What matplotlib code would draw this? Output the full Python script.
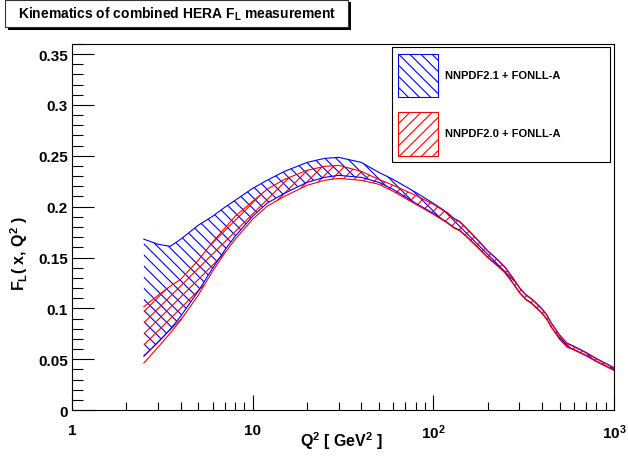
import matplotlib
matplotlib.use("Agg")
import matplotlib.pyplot as plt
from matplotlib.patches import Patch, Rectangle
from matplotlib.ticker import FixedLocator, FixedFormatter, MultipleLocator, LogLocator, NullFormatter, FuncFormatter

plt.rcParams['font.family'] = ['Liberation Sans', 'DejaVu Sans']
plt.rcParams['font.weight'] = 'bold'
plt.rcParams['mathtext.fontset'] = 'custom'
plt.rcParams['mathtext.rm'] = 'Liberation Sans:bold'
plt.rcParams['mathtext.it'] = 'Liberation Sans:bold'
plt.rcParams['mathtext.bf'] = 'Liberation Sans:bold'
plt.rcParams['mathtext.default'] = 'rm'
plt.rcParams['hatch.linewidth'] = 0.8

# Q^2 grid [GeV^2]
q2 = [2.5, 3, 3.5, 4, 5, 6, 7, 8, 10, 12, 15, 20, 25, 30, 40, 50, 60, 80, 100,
      120, 130, 140, 150, 175, 200, 225, 250, 275, 300, 325, 350, 375, 400,
      425, 450, 475, 500, 550, 600, 700, 800, 1000]

# NNPDF2.1 + FONLL-A band
nn21_up = [0.168, 0.163, 0.161, 0.168, 0.1817, 0.1905, 0.1993, 0.2062, 0.218,
           0.2259, 0.2347, 0.2435, 0.2475, 0.2485, 0.2435, 0.2337, 0.2268,
           0.214, 0.2033,
           0.194, 0.1886, 0.1855, 0.1803, 0.168, 0.1568, 0.1486, 0.1405,
           0.1304, 0.1205, 0.1136, 0.1095, 0.1046, 0.0996, 0.0937, 0.0858,
           0.0798, 0.0739, 0.0658, 0.0628, 0.0567, 0.0507, 0.0417]
nn21_lo = [0.053, 0.0668, 0.0795, 0.0923, 0.1169, 0.1394, 0.1571, 0.1709,
           0.1905, 0.2033, 0.2131, 0.2239, 0.2288, 0.2308, 0.2288, 0.2239,
           0.217, 0.2033, 0.1935,
           0.1843, 0.1796, 0.1769, 0.1722, 0.1608, 0.1504, 0.1428, 0.1352,
           0.1255, 0.1158, 0.1091, 0.1052, 0.1003, 0.0955, 0.0896, 0.0819,
           0.0761, 0.0702, 0.0624, 0.0596, 0.0539, 0.0481, 0.0395]

# NNPDF2.0 + FONLL-A band
nn20_up = [0.1016, 0.1129, 0.1218, 0.1286, 0.1473, 0.165, 0.1787, 0.1905,
           0.2052, 0.217, 0.2268, 0.2357, 0.2396, 0.2406, 0.2347, 0.2268,
           0.221, 0.2111, 0.2023,
           0.1935, 0.1881, 0.1849, 0.1797, 0.1674, 0.1562, 0.148, 0.1399,
           0.1298, 0.1199, 0.113, 0.1089, 0.104, 0.099, 0.0931, 0.0852,
           0.0792, 0.0733, 0.0652, 0.0622, 0.0562, 0.0502, 0.0413]
nn20_lo = [0.0462, 0.0619, 0.0756, 0.0884, 0.1129, 0.1365, 0.1542, 0.1679,
           0.1876, 0.2003, 0.2101, 0.221, 0.2259, 0.2278, 0.2259, 0.222,
           0.2151, 0.2023, 0.1925,
           0.1837, 0.179, 0.1763, 0.1716, 0.1602, 0.1498, 0.1422, 0.1346,
           0.1249, 0.1152, 0.1085, 0.1046, 0.0997, 0.0949, 0.089, 0.0813,
           0.0755, 0.0696, 0.0618, 0.059, 0.0533, 0.0475, 0.0389]

labels = ['NNPDF2.1 + FONLL-A', 'NNPDF2.0 + FONLL-A']
colors = ['blue', 'red']
hatches = ['\\\\\\', '///']

fig = plt.figure(figsize=(6.28, 4.60), dpi=100)
ax = fig.add_axes([0.1146, 0.1065, 0.863, 0.7957])

bands = [(nn21_lo, nn21_up), (nn20_lo, nn20_up)]
for (lo, up), c, h in zip(bands, colors, hatches):
    ax.fill_between(q2, lo, up, facecolor='none', edgecolor=c, hatch=h,
                    linewidth=0)
    ax.plot(q2, up, color=c, lw=0.8)
    ax.plot(q2, lo, color=c, lw=0.8)

ax.set_xscale('log')
ax.set_xlim(1, 1000)
ax.set_ylim(0, 0.36)

ax.xaxis.set_major_locator(FixedLocator([1, 10, 100, 1000]))
ax.xaxis.set_major_formatter(FixedFormatter(['1', '10', '10$^2$', '10$^3$']))
ax.xaxis.set_minor_locator(LogLocator(base=10, subs=range(2, 10)))
ax.xaxis.set_minor_formatter(NullFormatter())
ax.yaxis.set_major_locator(MultipleLocator(0.05))
ax.yaxis.set_minor_locator(MultipleLocator(0.01))
ax.yaxis.set_major_formatter(FuncFormatter(lambda v, p: '%g' % round(v, 3)))

ax.tick_params(which='both', direction='in', top=False, right=False,
               width=0.8, color='black')
ax.tick_params(axis='x', which='major', length=11, pad=9, labelsize=11)
ax.tick_params(axis='x', which='minor', length=5.5)
ax.tick_params(axis='y', which='major', length=16, pad=3, labelsize=11)
ax.tick_params(axis='y', which='minor', length=8)
for s in ax.spines.values():
    s.set_linewidth(0.8)

ax.set_xlabel('Q$^2$ [ GeV$^2$ ]', fontsize=11.5, fontweight='bold')
ax.xaxis.set_label_coords(0.498, -0.082)
ax.xaxis.label.set_va('center')
ax.set_ylabel('F$_L$( x, Q$^2$ )', fontsize=11.5, fontweight='bold')
ax.yaxis.set_label_coords(-0.098, 0.43)
ax.yaxis.label.set_va('center')

handles = [Patch(facecolor='none', edgecolor=c, hatch=h, lw=0.8)
           for c, h in zip(colors, hatches)]
leg = ax.legend(handles, labels, loc='upper left',
                bbox_to_anchor=(0.590, 0.0, 0.403, 0.992), mode='expand',
                borderaxespad=0, handlelength=3.6, handleheight=5.7,
                labelspacing=1.3, borderpad=0.6, handletextpad=0.63,
                fancybox=False, framealpha=1, edgecolor='black',
                prop={'weight': 'bold', 'size': 8})
leg.get_frame().set_linewidth(0.8)

# title pave with shadow
fig.patches.append(Rectangle((8 / 628, 1 - 31 / 460), 343 / 628, 28 / 460,
                             transform=fig.transFigure, facecolor='black',
                             edgecolor='black', lw=0))
fig.patches.append(Rectangle((5 / 628, 1 - 28 / 460), 343 / 628, 27 / 460,
                             transform=fig.transFigure, facecolor='white',
                             edgecolor='#333333', lw=0.8))
fig.text(177 / 628, 1 - 14 / 460, 'Kinematics of combined HERA F$_L$ measurement',
         ha='center', va='center', fontsize=10, fontweight='bold')

fig.savefig('out.png', dpi=100)
